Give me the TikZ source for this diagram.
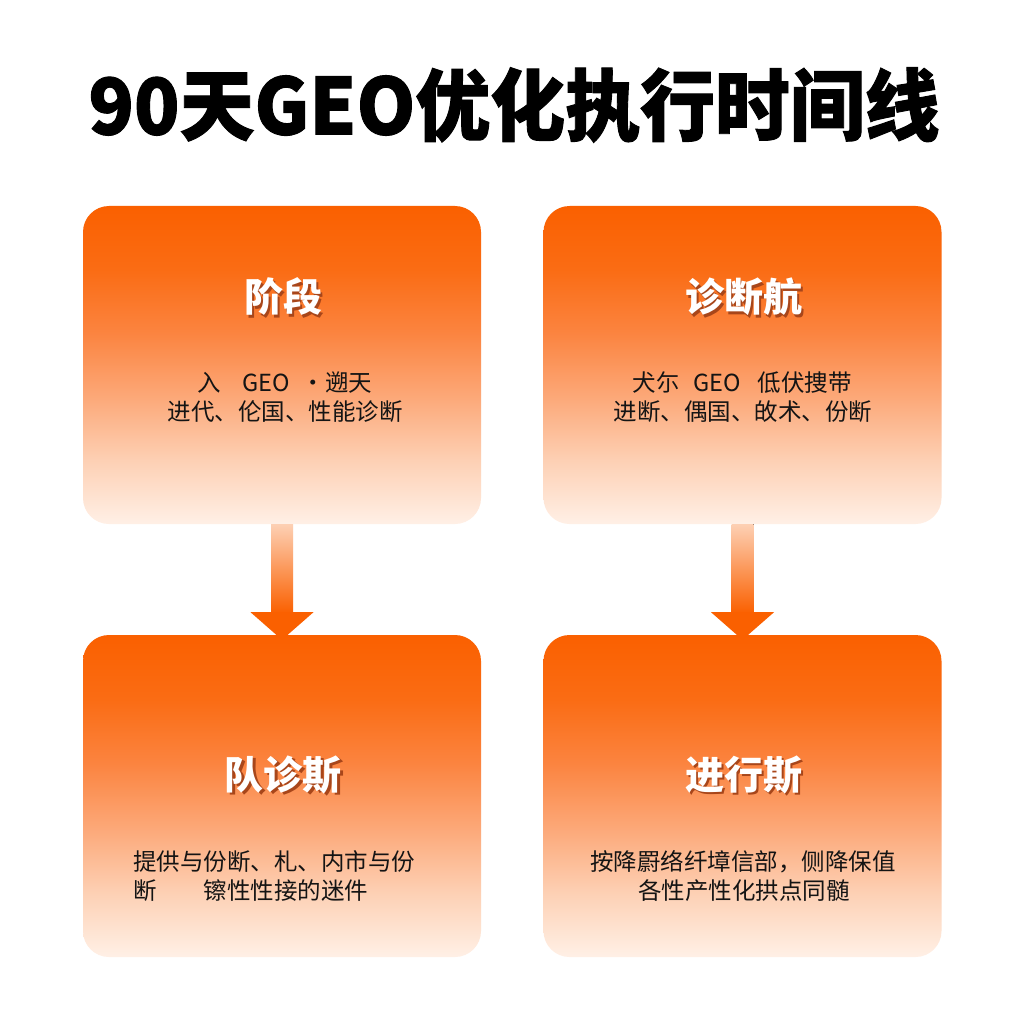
\documentclass[tikz,border=0pt]{standalone}
\usepackage{fontspec}
\usetikzlibrary{calc}
\newfontfamily\cjk{Noto Sans CJK SC}
\newfontfamily\cjkheavy{Noto Sans CJK SC}[BoldFeatures={FakeBold=1.2}]
\definecolor{orA}{HTML}{FA6000}
\definecolor{orB}{HTML}{FA6C14}
\definecolor{orC}{HTML}{FB8440}
\definecolor{orD}{HTML}{FCA878}
\definecolor{orE}{HTML}{FDD0B4}
\definecolor{orF}{HTML}{FFF0E6}
\definecolor{txt}{HTML}{141414}
\definecolor{hshade}{HTML}{A8461A}
\pgfdeclareverticalshading{boxshade}{100bp}{color(0bp)=(orF); color(25bp)=(orF); color(35bp)=(orE); color(45bp)=(orD); color(55bp)=(orC); color(65bp)=(orB); color(75bp)=(orA); color(100bp)=(orA)}
\pgfdeclareverticalshading{shaftshade}{100bp}{color(0bp)=(orA); color(25bp)=(orA); color(75bp)=(orE); color(100bp)=(orE)}
\newcommand{\shadowed}[1]{\makebox[0pt][l]{\hspace{2.5pt}\raisebox{-2.5pt}{\color{hshade}#1}}#1}
\tikzset{
  box/.style={rectangle, rounded corners=26pt, shading=boxshade, inner sep=0pt, minimum width=398pt},
  heading/.style={font=\cjk\bfseries\fontsize{39}{42}\selectfont, text=white, inner sep=0pt},
  body/.style={font=\cjk\fontsize{23.5}{29}\selectfont, text=txt, inner sep=0pt},
  shaft/.style={shading=shaftshade},
  headtip/.style={fill=orA},
}
\begin{document}
\begin{tikzpicture}[x=1pt,y=-1pt]
\useasboundingbox (0,0) rectangle (1024,1024);
\fill[white] (0,0) rectangle (1024,1024);
% title
\node[font=\cjkheavy\bfseries\fontsize{78}{80}\selectfont, inner sep=0pt] (title) at (514,105) {\scalebox{0.96}[1]{90天GEO优化执行时间线}};
% boxes
\node[box, minimum height=318pt] (b1) at (282,365) {};
\node[box, minimum height=318pt] (b2) at (742.5,365) {};
\node[box, minimum height=322pt] (b3) at (282,796) {};
\node[box, minimum height=322pt] (b4) at (742.5,796) {};
% arrows
\foreach \a/\b in {b1/b3, b2/b4}{
  \fill[shaft] ($(\a.south)+(-11,0)$) rectangle ($(\a.south)+(11,89)$);
  \fill[headtip] ($(\a.south)+(-31.5,88)$) -- ($(\a.south)+(31.5,88)$) -- ($(\b.north)+(0,5)$) -- cycle;
}
% headings
\node[heading] (h1) at (283,298) {\shadowed{阶段}};
\node[heading] (h2) at (743.5,298) {\shadowed{诊断航}};
\node[heading] (h3) at (283,776) {\shadowed{队诊斯}};
\node[heading] (h4) at (743.5,776) {\shadowed{进行斯}};
% body texts
\node[body] (t1a) at (285,383) {入\hspace{0.9em}GEO\hspace{0.5em}·遡天};
\node[body] (t1b) at (285,412) {进代、伦国、性能诊断};
\node[body] (t2a) at (742,383) {犬尓\hspace{0.6em}GEO\hspace{0.7em}低伏捜带};
\node[body] (t2b) at (743,412) {进断、偶国、敀术、份断};
\node[body, anchor=west] (t3a) at (133,862) {提供与份断、札、内市与份};
\node[body, anchor=west] (t3b) at (133,891) {断\hspace{2em}镲性性接的迷件};
\node[body] (t4a) at (743,862) {按降罻络纤墇信部，侧降保值};
\node[body] (t4b) at (744,891) {各性产性化拱点同髄};
\end{tikzpicture}
\end{document}
